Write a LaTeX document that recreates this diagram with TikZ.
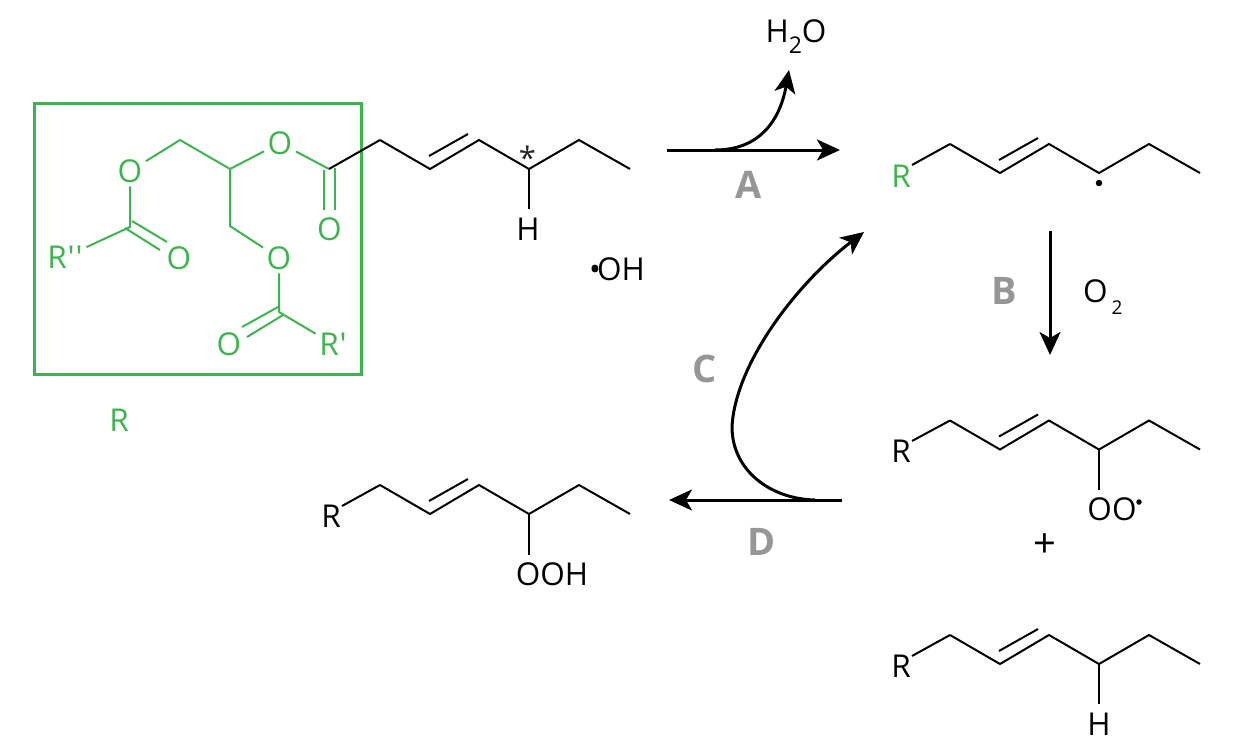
\documentclass[tikz,border=0pt]{standalone}
\usepackage{fontspec}
\setmainfont{Open Sans}
\newfontfamily\straightfont{Open Sans}
\usetikzlibrary{arrows.meta}
\definecolor{chemgreen}{HTML}{3DB54E}
\definecolor{labelgrey}{HTML}{969696}
\newcommand{\zigzag}[1]{%
  \coordinate (#1a) at (0,0);
  \coordinate (#1b) at (50,29);
  \coordinate (#1c) at (99,0);
  \coordinate (#1d) at (149,29);
  \coordinate (#1e) at (199,0);
  \coordinate (#1f) at (250,29);
  \coordinate (#1p) at (49,16);
  \coordinate (#1q) at (88,-6);
  \draw[bond,line join=miter] (#1a) -- (#1b) -- (#1c) -- (#1d) -- (#1e) -- (#1f);
  \draw[bond] (#1p) -- (#1q);
}
\tikzset{
  x=1pt,y=-1pt,
  bond/.style={line width=2pt,draw=black},
  gbond/.style={line width=2pt,draw=chemgreen},
  atom/.style={font=\fontsize{31.5}{31.5}\selectfont,inner sep=3.5pt,text=black},
  gatom/.style={atom,text=chemgreen},
  steplabel/.style={font=\fontsize{38}{38}\selectfont\bfseries,text=labelgrey,inner sep=0pt},
  rxn/.style={line width=3pt,draw=black,-{Stealth[length=23pt,width=21pt,inset=6pt]}},
  rxnplain/.style={line width=3pt,draw=black},
  framebox/.style={line width=3pt,draw=chemgreen,fill=none,outer sep=0pt},
  raddot/.style={circle,fill=black,inner sep=0pt,minimum size=6.5pt},
}
\begin{document}
\begin{tikzpicture}
\useasboundingbox (0,0) rectangle (1245,745);
% green frame
\node[framebox,minimum width=327pt,minimum height=271pt,anchor=north west,inner sep=0pt] (frame) at (34,103) {};
% green part
\coordinate (ca) at (180,140);
\coordinate (cb) at (230,169);
\coordinate (cc) at (230,226);
\coordinate (cd) at (329,169);
\coordinate (ce) at (130,227);
\coordinate (cf) at (279,312);
\node[gatom] (o1) at (130,171) {O};
\node[gatom] (o2) at (280,143) {O};
\node[gatom] (o3) at (329.5,229) {O};
\node[gatom] (o4) at (279,258) {O};
\node[gatom] (o5) at (229,344) {O};
\node[gatom] (o6) at (179,258) {O};
\node[gatom] (r1) at (333,344) {\straightfont R\kern1pt'};
\node[gatom] (r2) at (65,257) {\straightfont R\kern1pt'\kern1pt'};
\node[gatom,inner sep=0pt] (rlab) at (119,420) {R};
\draw[gbond,line join=miter] (o1) -- (ca) -- (cb) -- (cc) -- (o4);
\draw[gbond] (cb) -- (o2) -- (cd);
\draw[gbond] (o1) -- (ce) -- (r2);
\draw[gbond] (o4) -- (cf) -- (r1);
% carbonyls
\coordinate (d1a) at (324,170); \coordinate (d1b) at (324,210);
\coordinate (d1c) at (335,168); \coordinate (d1d) at (335,210);
\draw[gbond] (d1a) -- (d1b);
\draw[gbond] (d1c) -- (d1d);
\coordinate (d2a) at (132,221); \coordinate (d2b) at (167,242);
\coordinate (d2c) at (125,228); \coordinate (d2d) at (160,250);
\draw[gbond] (d2a) -- (d2b);
\draw[gbond] (d2c) -- (d2d);
\coordinate (d3a) at (278,307); \coordinate (d3b) at (242,327);
\coordinate (d3c) at (283,315); \coordinate (d3d) at (247,337);
\draw[gbond] (d3a) -- (d3b);
\draw[gbond] (d3c) -- (d3d);
% substrate chain
\begin{scope}[shift={(380,140)}]
  \zigzag{s}
\end{scope}
\draw[bond] (cd) -- (sa);
\node[atom,inner sep=0pt,inner ysep=9pt] (sh) at (528,229) {H};
\draw[bond] (sd) -- (sd |- sh.north);
\node[font=\fontsize{31}{31}\selectfont,inner sep=0pt,text=black!85] (star) at (527.5,158) {*};
\node[atom,inner sep=0pt] (oh) at (617,269) {•\kern-4pt OH};
% right product 1
\begin{scope}[shift={(950,144)}]
  \zigzag{t}
\end{scope}
\node[gatom,inner sep=0pt] (tr) at (901,176) {R};
\coordinate (tx) at (912,165);
\draw[bond] (tx) -- (ta);
\node[raddot] (tdot) at (1099,183) {};
% right product 2
\begin{scope}[shift={(950,420.5)}]
  \zigzag{u}
\end{scope}
\node[atom,inner sep=0pt] (ur) at (901,451) {R};
\coordinate (ux) at (912,441);
\draw[bond] (ux) -- (ua);
\node[atom,inner sep=0pt,inner ysep=7pt] (uo) at (1112,509) {OO};
\draw[bond] (ud) -- (ud |- uo.north);
\node[raddot,minimum size=5.5pt] (udot) at (1139,502) {};
\node[font=\fontsize{40}{40}\selectfont,inner sep=0pt] (plus) at (1045,546) {+};
% right product 3
\begin{scope}[shift={(950,635)}]
  \zigzag{v}
\end{scope}
\node[atom,inner sep=0pt] (vr) at (901,666) {R};
\coordinate (vx) at (912,656);
\draw[bond] (vx) -- (va);
\node[atom,inner sep=0pt,inner ysep=9pt] (vh) at (1099,724) {H};
\draw[bond] (vd) -- (vd |- vh.north);
% hydroperoxide
\begin{scope}[shift={(380,485)}]
  \zigzag{w}
\end{scope}
\node[atom,inner sep=0pt] (wr) at (331,516) {R};
\coordinate (wx) at (342,506);
\draw[bond] (wx) -- (wa);
\node[atom,inner sep=0pt,inner ysep=7pt] (wo) at (552,574) {OOH};
\draw[bond] (wd) -- (wd |- wo.north);
% labels
\node[atom,inner sep=0pt,anchor=base] (water) at (796,42) {H\raisebox{-11pt}{\fontsize{23}{23}\selectfont 2}O};
\node[atom,inner sep=0pt,anchor=base west] (oxy) at (1083,302) {O\hspace{4pt}\raisebox{-12pt}{\fontsize{19}{19}\selectfont 2}};
\node[steplabel] (la) at (749,185) {A};
\node[steplabel] (lb) at (1004,291) {B};
\node[steplabel] (lc) at (705,369) {C};
\node[steplabel] (ld) at (762,542) {D};
% arrows
\coordinate (a1) at (667,150);
\coordinate (a2) at (840,150);
\coordinate (a3) at (715,150);
\coordinate (a4) at (789,70);
\draw[rxn] (a1) -- (a2);
\draw[rxn] (a3) .. controls (760,150) and (780,120) .. (a4);
\coordinate (b1) at (1050,231);
\coordinate (b2) at (1050,355);
\draw[rxn] (b1) -- (b2);
\coordinate (d1) at (842,500);
\coordinate (d2) at (669,500);
\draw[rxn] (d1) -- (d2);
\coordinate (c1) at (815,500);
\coordinate (c2) at (732,427);
\coordinate (c3) at (864,232);
\draw[rxnplain] (c1) .. controls (770,499) and (732,470) .. (c2);
\draw[rxn] (c2) .. controls (735,365) and (795,285) .. (c3);
\end{tikzpicture}
\end{document}
